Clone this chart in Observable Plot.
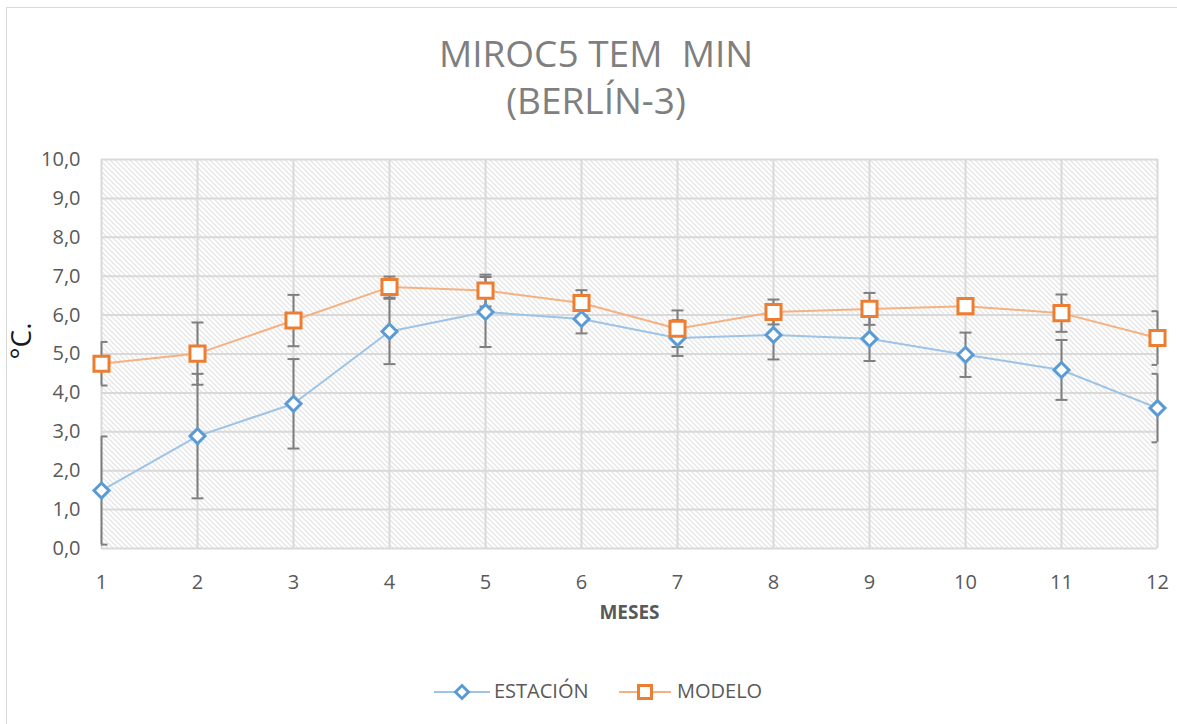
<!DOCTYPE html>
<html><head><meta charset="utf-8">
<script src="https://cdn.jsdelivr.net/npm/d3@7"></script>
<script src="https://cdn.jsdelivr.net/npm/@observablehq/plot@0.6"></script>
<style>
body{margin:0;background:#fff;font-family:"Open Sans",sans-serif;}
#chart{position:relative;width:1177px;height:724px;overflow:hidden;background:#fff;}
#border{position:absolute;left:6px;top:7px;width:1220px;height:800px;border:1.5px solid #d9d9d9;box-sizing:border-box;}
#title{position:absolute;left:0;top:29px;width:1192px;text-align:center;font-size:37px;line-height:47px;color:#7f7f7f;}
#plot{position:absolute;left:0;top:140px;}
.legtext{position:absolute;top:677px;font-size:20px;line-height:28px;color:#595959;white-space:nowrap;}
.legsym{position:absolute;top:682px;}
</style>
</head><body>
<div id="chart">
  <div id="border"></div>
  <div id="title">MIROC5 TEM&nbsp; MIN<br>(BERLÍN-3)</div>
  <div id="plot"></div>
  <svg class="legsym" style="left:434px" width="56" height="20">
    <line x1="0" x2="56" y1="10" y2="10" stroke="#9DC3E6" stroke-width="2"/>
    <path d="M28,3.5L34.5,10L28,16.5L21.5,10Z" fill="#fff" stroke="#5B9BD5" stroke-width="3"/>
  </svg>
  <div class="legtext" style="left:494px">ESTACIÓN</div>
  <svg class="legsym" style="left:619px" width="52" height="20">
    <line x1="0" x2="52" y1="10" y2="10" stroke="#F4B183" stroke-width="2"/>
    <rect x="19.5" y="3.5" width="13" height="13" fill="#fff" stroke="#ED7D31" stroke-width="3"/>
  </svg>
  <div class="legtext" style="left:677px">MODELO</div>
</div>
<script>
const meses = [1, 2, 3, 4, 5, 6, 7, 8, 9, 10, 11, 12];
const estacion   = [1.49, 2.89, 3.72, 5.58, 6.08, 5.90, 5.41, 5.49, 5.39, 4.98, 4.59, 3.61];
const estacionDE = [1.39, 1.60, 1.15, 0.84, 0.90, 0.37, 0.46, 0.63, 0.57, 0.57, 0.77, 0.88];
const modelo     = [4.75, 5.01, 5.86, 6.72, 6.63, 6.31, 5.65, 6.08, 6.16, 6.23, 6.05, 5.41];
const modeloDE   = [0.56, 0.80, 0.66, 0.27, 0.41, 0.33, 0.47, 0.32, 0.41, 0.18, 0.48, 0.69];
const yTicks = [0, 1, 2, 3, 4, 5, 6, 7, 8, 9, 10];

const est = meses.map((m, i) => ({mes: m, v: estacion[i], lo: estacion[i] - estacionDE[i], hi: estacion[i] + estacionDE[i]}));
const mod = meses.map((m, i) => ({mes: m, v: modelo[i], lo: modelo[i] - modeloDE[i], hi: modelo[i] + modeloDE[i]}));

const cap = {draw(ctx, size) { const w = Math.sqrt(size / Math.PI); ctx.moveTo(-w, 0); ctx.lineTo(w, 0); }};
const errGrey = "#7f7f7f";

function errorBars(data) {
  return [
    Plot.ruleX(data, {x: "mes", y1: "lo", y2: "hi", stroke: errGrey, strokeWidth: 2}),
    Plot.dot(data, {x: "mes", y: "lo", symbol: cap, r: 6, stroke: errGrey, strokeWidth: 2, fill: "none", clip: true}),
    Plot.dot(data, {x: "mes", y: "hi", symbol: cap, r: 6, stroke: errGrey, strokeWidth: 2, fill: "none", clip: true})
  ];
}

const svg = Plot.plot({
  width: 1177, height: 584,
  marginTop: 19, marginBottom: 176, marginLeft: 101, marginRight: 20,
  style: {fontFamily: "Open Sans", fontSize: "20px", color: "#595959", background: "transparent", overflow: "visible"},
  x: {domain: [1, 12]},
  y: {domain: [0, 10]},
  marks: [
    Plot.frame({fill: "url(#hatch)", stroke: null}),
    Plot.gridY(yTicks, {stroke: "#d9d9d9", strokeOpacity: 1, strokeWidth: 2}),
    Plot.gridX(meses, {stroke: "#d9d9d9", strokeOpacity: 1, strokeWidth: 2}),
    Plot.axisY(yTicks, {tickSize: 0, tickPadding: 21, tickFormat: d => d.toFixed(1).replace(".", ","), label: null}),
    Plot.axisX(meses, {tickSize: 0, tickPadding: 26, tickFormat: d => String(d), label: null}),
    Plot.line(est, {x: "mes", y: "v", stroke: "#9DC3E6", strokeWidth: 2}),
    Plot.line(mod, {x: "mes", y: "v", stroke: "#F4B183", strokeWidth: 2}),
    ...errorBars(est),
    ...errorBars(mod),
    Plot.dot(est, {x: "mes", y: "v", symbol: "diamond2", r: 6.75, stroke: "#5B9BD5", strokeWidth: 3, fill: "white"}),
    Plot.dot(mod, {x: "mes", y: "v", symbol: "square", r: 8.5, stroke: "#ED7D31", strokeWidth: 3, fill: "white"}),
    Plot.text(["MESES"], {frameAnchor: "bottom", dy: 70.5, fontWeight: "bold", fontSize: 19, fill: "#595959"}),
    Plot.text(["°C."], {frameAnchor: "left", dx: -79, dy: -13, rotate: -90, fontSize: 28, fill: "#1a1a1a", textAnchor: "middle"})
  ]
});

const defs = d3.select(svg).insert("defs", ":first-child");
const pat = defs.append("pattern").attr("id", "hatch").attr("patternUnits", "userSpaceOnUse").attr("width", 5).attr("height", 5);
pat.append("rect").attr("width", 5).attr("height", 5).attr("fill", "#fff");
pat.append("path").attr("d", "M0,0L5,5M-1,4L1,6M4,-1L6,1").attr("stroke", "#cfcfcf").attr("stroke-width", 1);

document.getElementById("plot").appendChild(svg);
</script>
</body></html>
